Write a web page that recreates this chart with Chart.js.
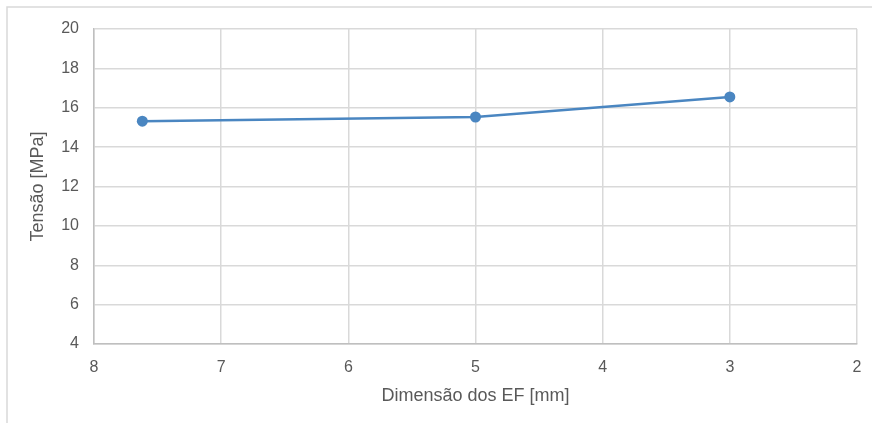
<!DOCTYPE html>
<html>
<head>
<meta charset="utf-8">
<script src="https://cdn.jsdelivr.net/npm/chart.js@4/dist/chart.umd.min.js"></script>
<style>
  html, body { margin: 0; padding: 0; background: #ffffff; }
  #wrap { width: 872px; height: 423px; position: relative; }
</style>
</head>
<body>
<div id="wrap"><canvas id="c"></canvas></div>
<script>
// Element size (mm) and resulting stress (MPa)
const elementSizes = [7.62, 5, 3];
const stressValues = [15.32, 15.53, 16.55];

// Axis ranges and titles
const xRange = [2, 8];
const yRange = [4, 20];
const xTitle = 'Dimensão dos EF [mm]';
const yTitle = 'Tensão [MPa]';

const points = elementSizes.map((x, i) => ({ x: x, y: stressValues[i] }));

// Light frame around the chart (open on the right and bottom)
const framePlugin = {
  id: 'frame',
  beforeDraw(chart) {
    const ctx = chart.ctx;
    ctx.save();
    ctx.strokeStyle = '#d9d9d9';
    ctx.lineWidth = 1.5;
    ctx.strokeRect(7, 7, 900, 450);
    ctx.restore();
  }
};

const tickFont = { family: 'Liberation Sans, Arial, sans-serif', size: 16 };
const titleFont = { family: 'Liberation Sans, Arial, sans-serif', size: 18 };

new Chart(document.getElementById('c'), {
  type: 'line',
  data: {
    datasets: [{
      data: points,
      borderColor: '#4a86c1',
      backgroundColor: '#4a86c1',
      borderWidth: 2.5,
      pointRadius: 5.5,
      pointHoverRadius: 5.5,
      pointBorderWidth: 0,
      tension: 0
    }]
  },
  options: {
    responsive: true,
    maintainAspectRatio: false,
    animation: false,
    events: [],
    layout: { padding: { top: 29, right: 15, left: 0, bottom: 0 } },
    plugins: { legend: { display: false }, tooltip: { enabled: false } },
    scales: {
      x: {
        type: 'linear',
        reverse: true,
        min: xRange[0],
        max: xRange[1],
        ticks: { stepSize: 1, color: '#595959', font: tickFont, padding: 14 },
        grid: { color: '#d9d9d9', lineWidth: 1.5, drawTicks: false },
        border: { color: '#bfbfbf', width: 1.5 },
        title: { display: true, text: xTitle, color: '#595959', font: titleFont, padding: { top: 0, bottom: 16 } },
        afterFit(scale) {
          scale.height = 79;
          scale.paddingLeft = 0;
          scale.paddingRight = 0;
        }
      },
      y: {
        min: yRange[0],
        max: yRange[1],
        ticks: { stepSize: 2, color: '#595959', font: tickFont, padding: 15 },
        grid: { color: '#d9d9d9', lineWidth: 1.5, drawTicks: false },
        border: { color: '#bfbfbf', width: 1.5 },
        title: { display: true, text: yTitle, color: '#595959', font: titleFont, padding: { top: 27, bottom: 0 } },
        afterFit(scale) { scale.width = 94; }
      }
    }
  },
  plugins: [framePlugin]
});
</script>
</body>
</html>
